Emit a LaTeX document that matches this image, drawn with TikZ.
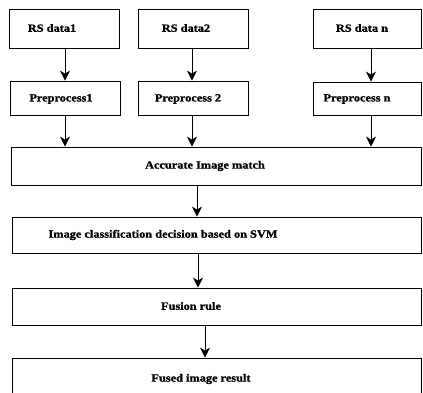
\documentclass[tikz,border=0pt]{standalone}
\usepackage{fontspec}
\setmainfont{Liberation Serif}[FakeStretch=1.12,BoldFeatures={FakeBold=1.2}]
\usetikzlibrary{arrows.meta}
\begin{document}
\begin{tikzpicture}[x=1pt,y=-1pt,
  box/.style={draw,line width=0.8pt,rectangle,inner sep=0pt},
  txt/.style={font=\bfseries\fontsize{11}{13}\selectfont,inner sep=0pt,anchor=center},
  arr/.style={line width=1pt,-{Stealth[length=10pt,width=10pt,inset=3pt]}}]
\useasboundingbox (0,0) rectangle (423,393);
\clip (0,0) rectangle (423,393);
% boxes
\node[box,minimum width=110pt,minimum height=39pt] (rs1) at (64,28.5) {};
\node[box,minimum width=110pt,minimum height=39pt] (rs2) at (193,28.5) {};
\node[box,minimum width=108pt,minimum height=39pt] (rsn) at (367,28.5) {};
\node[box,minimum width=110pt,minimum height=34pt] (pre1) at (65,98) {};
\node[box,minimum width=110pt,minimum height=34pt] (pre2) at (193,98) {};
\node[box,minimum width=108pt,minimum height=33pt] (pren) at (367,98.5) {};
\node[box,minimum width=410pt,minimum height=38pt] (acc) at (216,166) {};
\node[box,minimum width=409pt,minimum height=36pt] (cls) at (216.5,235) {};
\node[box,minimum width=409pt,minimum height=37pt] (fus) at (216.5,306.5) {};
\node[box,minimum width=409pt,minimum height=50pt] (res) at (216.5,383) {};
% texts
\node[txt] (rs1t) at (52,28) {RS data1};
\node[txt] (rs2t) at (186,28) {RS data2};
\node[txt] (rsnt) at (362,28) {RS data n};
\node[txt] (pre1t) at (61,99) {Preprocess1};
\node[txt] (pre2t) at (188,99) {Preprocess 2};
\node[txt] (prent) at (357,99) {Preprocess n};
\node[txt] (acct) at (205,166) {Accurate Image match};
\node[txt] (clst) at (163,235) {Image classification decision based on SVM};
\node[txt] (fust) at (191,306) {Fusion rule};
\node[txt] (rest) at (201,379) {Fused image result};
% arrow positions
\coordinate (a1) at (65,48);
\coordinate (a2) at (192,48);
\coordinate (a3) at (371,48);
\coordinate (b1) at (65,115);
\coordinate (b2) at (192,115);
\coordinate (b3) at (371,115);
\coordinate (c1) at (197,185);
\coordinate (c2) at (198,253);
\coordinate (c3) at (205,325);
\draw[arr] (a1) -- (a1 |- pre1.north);
\draw[arr] (a2) -- (a2 |- pre2.north);
\draw[arr] (a3) -- (a3 |- pren.north);
\draw[arr] (b1) -- (b1 |- acc.north);
\draw[arr] (b2) -- (b2 |- acc.north);
\draw[arr] (b3) -- (b3 |- acc.north);
\draw[arr] (c1) -- (c1 |- cls.north);
\draw[arr] (c2) -- (c2 |- fus.north);
\draw[arr] (c3) -- (c3 |- res.north);
\end{tikzpicture}
\end{document}
